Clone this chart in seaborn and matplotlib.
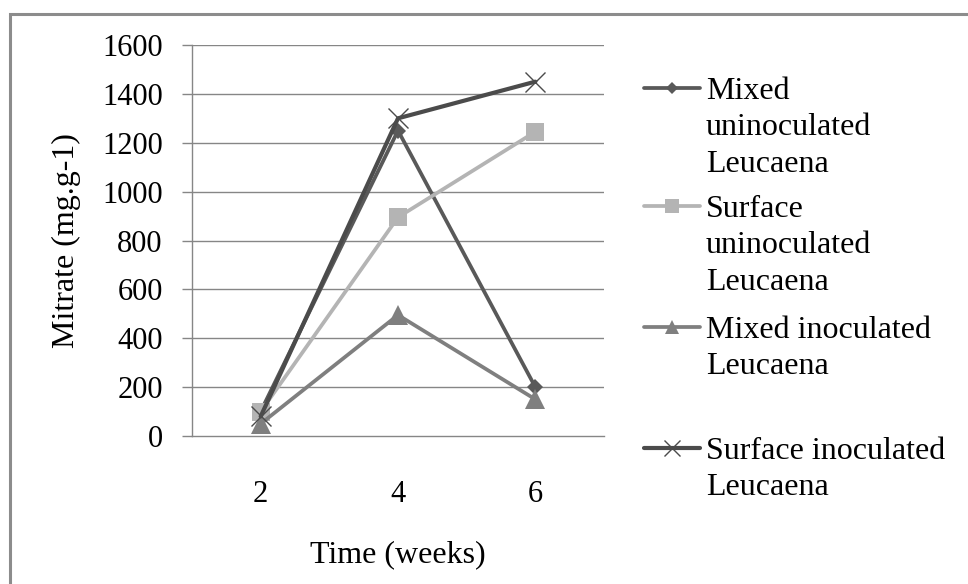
import matplotlib
matplotlib.use("Agg")
import matplotlib.pyplot as plt
import seaborn as sns
import pandas as pd
from matplotlib.lines import Line2D
from matplotlib.patches import Rectangle

# ---- data ----
weeks = ["2", "4", "6"]
series_names = [
    "Mixed uninoculated Leucaena",
    "Surface uninoculated Leucaena",
    "Mixed inoculated Leucaena",
    "Surface inoculated Leucaena",
]
legend_labels = [
    "Mixed\nuninoculated\nLeucaena",
    "Surface\nuninoculated\nLeucaena",
    "Mixed inoculated\nLeucaena",
    "Surface inoculated\nLeucaena",
]
mixed_uninoculated = [100, 1250, 200]
surface_uninoculated = [100, 895, 1245]
mixed_inoculated = [50, 495, 150]
surface_inoculated = [80, 1300, 1450]
y_ticks = [0, 200, 400, 600, 800, 1000, 1200, 1400, 1600]

values = [mixed_uninoculated, surface_uninoculated, mixed_inoculated, surface_inoculated]

# ---- styles ----
colors = ["#595959", "#b4b4b4", "#7f7f7f", "#4b4b4b"]
markers = ["D", "s", "^", "x"]
msizes = [8.5, 13, 14, 15]
lws = [2.7, 2.7, 2.7, 3.0]

rows = []
for name, vals in zip(series_names, values):
    for w, v in zip(weeks, vals):
        rows.append({"week": w, "value": v, "series": name})
df = pd.DataFrame(rows)

sns.set_style("white")
plt.rcParams["font.family"] = ["Liberation Serif", "DejaVu Serif"]
plt.rcParams["text.color"] = "black"
plt.rcParams["axes.labelcolor"] = "black"

W, H = 968, 584
fig = plt.figure(figsize=(W / 100, H / 100), dpi=100)
ax = fig.add_axes([192 / W, 1 - 436 / H, (604 - 192) / W, (436 - 45) / H])

grid_c = "#868686"
for yt in y_ticks[1:]:
    ax.axhline(yt, color=grid_c, lw=1.0, zorder=0)

for name, c, m, ms, lw in zip(series_names, colors, markers, msizes, lws):
    sub = df[df["series"] == name]
    kw = dict(markeredgewidth=1.0) if m == "x" else dict(markeredgewidth=0)
    sns.lineplot(data=sub, x="week", y="value", ax=ax, color=c, marker=m,
                 markersize=ms, linewidth=lw, legend=False, zorder=3,
                 markeredgecolor=c, **kw)

ax.set_xlim(-0.5, 2.5)
ax.set_ylim(0, 1600)
ax.set_yticks(y_ticks)
ax.set_yticklabels([str(t) for t in y_ticks])
ax.set_xticks([0, 1, 2])
ax.set_xticklabels(weeks)
ax.set_xticks([-0.5, 0.5, 1.5, 2.5], minor=True)
ax.tick_params(axis="x", which="major", length=0, pad=32, labelsize=22, labelcolor="black")
ax.tick_params(axis="x", which="minor", length=8, width=1, color=grid_c, direction="out")
ax.tick_params(axis="y", which="major", length=7, width=1, color=grid_c, direction="out",
               pad=14, labelsize=22, left=True, labelcolor="black")
for s in ["top", "right"]:
    ax.spines[s].set_visible(False)
ax.spines["left"].set_color(grid_c)
ax.spines["bottom"].set_color(grid_c)
ax.spines["left"].set_linewidth(1)
ax.spines["bottom"].set_linewidth(1)
ax.set_xlabel("Time (weeks)", fontsize=23, labelpad=22)
ax.set_ylabel("Mitrate (mg.g-1)", fontsize=23, labelpad=15)

# ---- manual legend (handles at first text line, like the original) ----
entry_y = [88, 206, 327, 448]
for lab, yy, c, m, ms, lw in zip(legend_labels, entry_y, colors, markers, msizes, lws):
    yf = 1 - yy / H
    kw = dict(markeredgewidth=1.0) if m == "x" else dict(markeredgewidth=0)
    fig.add_artist(Line2D([644 / W, 700 / W], [yf, yf], color=c, lw=lw,
                          transform=fig.transFigure))
    fig.add_artist(Line2D([672 / W], [yf], color=c, marker=m,
                          markersize=ms * 0.75, markeredgecolor=c,
                          transform=fig.transFigure, **kw))
    fig.text(706 / W, 1 - (yy - 11) / H, lab, fontsize=23, va="top", ha="left",
             linespacing=1.34, color="black")

# ---- outer chart frame ----
fig.add_artist(Rectangle((10 / W, -0.05), 1.1, 1 - 14 / H + 0.05, transform=fig.transFigure,
                         fill=False, edgecolor="#8c8c8c", lw=2.2))

fig.savefig("out.png", dpi=100)
